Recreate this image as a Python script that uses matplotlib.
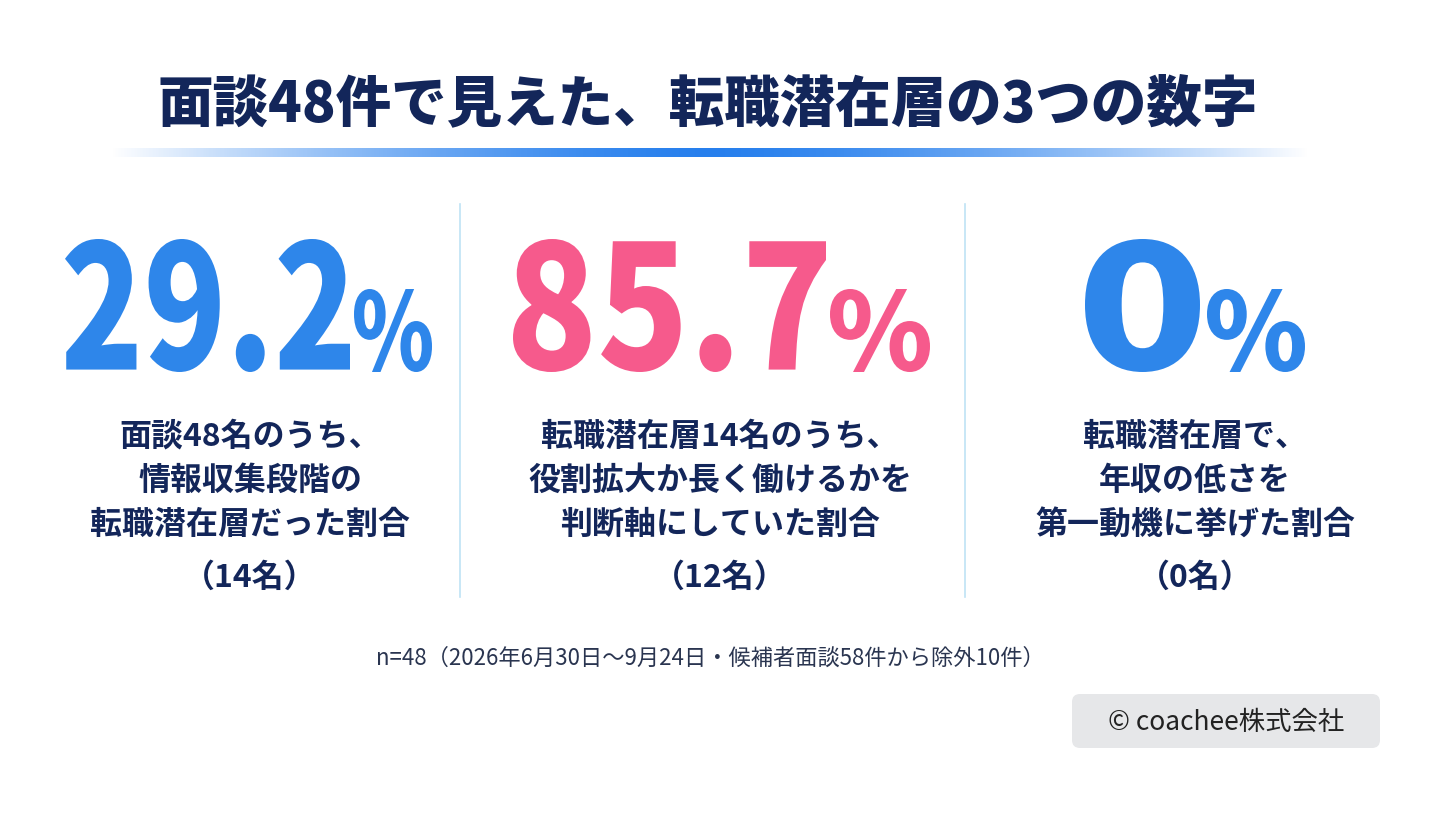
import matplotlib
matplotlib.use("Agg")
import matplotlib.pyplot as plt
import numpy as np
from matplotlib.patches import FancyBboxPatch, PathPatch
from matplotlib.textpath import TextPath
from matplotlib.font_manager import FontProperties
from matplotlib.transforms import Affine2D

plt.rcParams['font.family'] = ['Noto Sans CJK JP', 'DejaVu Sans']

title = "面談48件で見えた、転職潜在層の3つの数字"
values = ["29.2", "85.7", "0"]
descriptions = [
    ["面談48名のうち、", "情報収集段階の", "転職潜在層だった割合", "（14名）"],
    ["転職潜在層14名のうち、", "役割拡大か長く働けるかを", "判断軸にしていた割合", "（12名）"],
    ["転職潜在層で、", "年収の低さを", "第一動機に挙げた割合", "（0名）"],
]
colors = ["#2E86EA", "#F65A8C", "#2E86EA"]
footnote = "n=48（2026年6月30日〜9月24日・候補者面談58件から除外10件）"
credit = "© coachee株式会社"

fig = plt.figure(figsize=(14.4, 8.2), dpi=100)
ax = fig.add_axes([0, 0, 1, 1])
ax.set_xlim(0, 1440); ax.set_ylim(820, 0); ax.axis('off')

navy = "#13265A"
ax.text(708, 105, title, ha='center', va='center', fontsize=40, fontweight='heavy', color=navy)

xs = np.linspace(-1, 1, 400)
alpha = np.clip(1 - np.abs(xs) ** 1.5, 0, 1)
img = np.zeros((1, 400, 4))
img[..., 0] = 0.15; img[..., 1] = 0.5; img[..., 2] = 0.93; img[..., 3] = alpha
ax.imshow(img, extent=[110, 1310, 158, 149], aspect='auto', zorder=1)

fp = FontProperties(family='Noto Sans CJK JP', weight='heavy')

def fit_text(s, x0, x1, y0, y1, color):
    p = TextPath((0, 0), s, size=100, prop=fp)
    ext = p.get_extents()
    sx = (x1 - x0) / ext.width
    sy = (y1 - y0) / ext.height
    tr = (Affine2D().translate(-ext.x0, -ext.y0).scale(sx, -sy).translate(x0, y1))
    ax.add_patch(PathPatch(tr.transform_path(p), fc=color, ec='none'))

num_boxes = [(65, 350), (513, 826), (1085, 1200)]
pct_boxes = [(354, 432), (830, 930), (1207, 1305)]
centers = [250, 720, 1195]
for i in range(3):
    fit_text(values[i], num_boxes[i][0], num_boxes[i][1], 240, 373, colors[i])
    fit_text("%", pct_boxes[i][0], pct_boxes[i][1], 290, 373, colors[i])
    ys = [437, 481, 525, 578]
    for y, line in zip(ys, descriptions[i]):
        ax.text(centers[i], y, line, ha='center', va='center', fontsize=23,
                fontweight='bold', color=navy)

for x in [460, 965]:
    ax.plot([x, x], [205, 598], color="#BFE3F5", lw=1.2)

ax.text(710, 658, footnote, ha='center', va='center', fontsize=16, color="#2A3550")

box = FancyBboxPatch((1072, 695), 308, 54, boxstyle="round,pad=0,rounding_size=8",
                     fc="#E6E7E9", ec="none")
ax.add_patch(box)
ax.text(1226, 723, credit, ha='center', va='center', fontsize=19, color="#222222")

fig.savefig("out.png", dpi=100, facecolor='white')
